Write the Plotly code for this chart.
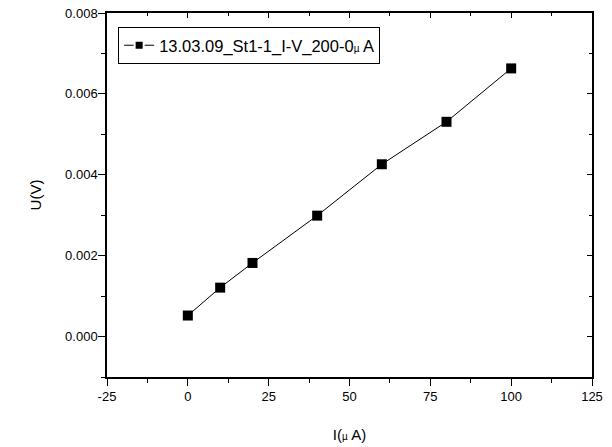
import plotly.graph_objects as go

current_uA = [0, 10, 20, 40, 60, 80, 100]
voltage_V = [0.00052, 0.00121, 0.00182, 0.00299, 0.00426, 0.00531, 0.00663]
x_tick_vals = [-25, 0, 25, 50, 75, 100, 125]
x_tick_text = ["-25", "0", "25", "50", "75", "100", "125"]
series_name = "13.03.09_St1-1_I-V_200-0<span style='font-size:10px'>µ</span> A"
x_title = "I(<span style='font-size:10px'>µ</span> A)"
y_title = "U(V)"

FONT = "Liberation Sans, Arial, sans-serif"

fig = go.Figure()
fig.add_trace(go.Scatter(
    x=current_uA, y=voltage_V, mode="lines+markers", name=series_name,
    line=dict(color="black", width=1),
    marker=dict(symbol="square", size=10, color="black"),
    showlegend=False,
))
# legend entry (smaller symbol, as in the original legend)
fig.add_trace(go.Scatter(
    x=[None], y=[None], mode="lines+markers", name=series_name,
    line=dict(color="black", width=1),
    marker=dict(symbol="square", size=9, color="black", line=dict(color="white", width=2)),
    showlegend=True,
))
# invisible trace to activate the mirrored top/right axes
fig.add_trace(go.Scatter(
    x=current_uA, y=voltage_V, mode="markers", xaxis="x2", yaxis="y2",
    marker=dict(opacity=0), showlegend=False, hoverinfo="skip",
))

common = dict(showgrid=False, zeroline=False, showline=True, linecolor="black",
              linewidth=1.5, tickcolor="black", tickwidth=1, automargin=False,
              ticklabeloverflow="allow",
              tickfont=dict(family=FONT, size=13, color="black"))

fig.update_layout(
    template="none",
    width=612, height=447,
    margin=dict(l=107, r=20, t=13, b=70),
    paper_bgcolor="white", plot_bgcolor="white",
    font=dict(family=FONT, color="black"),
    xaxis=dict(range=[-25, 125], tickmode="array", tickvals=x_tick_vals, ticktext=x_tick_text,
               ticks="outside", ticklen=7,
               minor=dict(dtick=12.5, tick0=0, ticks="outside", ticklen=4, tickcolor="black"),
               title=dict(text=x_title, font=dict(family=FONT, size=15), standoff=26),
               **common),
    yaxis=dict(range=[-0.001, 0.008], dtick=0.002, tick0=0, tickformat=".3f",
               ticks="outside", ticklen=7, ticklabelstandoff=-2,
               minor=dict(dtick=0.001, ticks="outside", ticklen=4, tickcolor="black"),
               title=dict(text=y_title, font=dict(family=FONT, size=15), standoff=20),
               **common),
    xaxis2=dict(range=[-25, 125], dtick=25, tick0=0, overlaying="x", side="top",
                anchor="y", ticks="inside", ticklen=5, showticklabels=False,
                minor=dict(dtick=12.5, ticks="inside", ticklen=3, tickcolor="black"),
                **common),
    yaxis2=dict(range=[-0.001, 0.008], dtick=0.002, tick0=0, overlaying="y", side="right",
                anchor="x", ticks="inside", ticklen=5, showticklabels=False,
                minor=dict(dtick=0.001, ticks="inside", ticklen=3, tickcolor="black"),
                **common),
    legend=dict(x=0.023, y=0.9615, xanchor="left", yanchor="top",
                bgcolor="white", bordercolor="black", borderwidth=1,
                font=dict(family=FONT, size=16.5, color="black"),
                tracegroupgap=0),
    showlegend=True,
)

# remove the browser's default 8px page margin so the figure fills the window exactly
fig.write_html("out.html", config={"displayModeBar": False},
               post_script="document.body.style.margin='0';")
